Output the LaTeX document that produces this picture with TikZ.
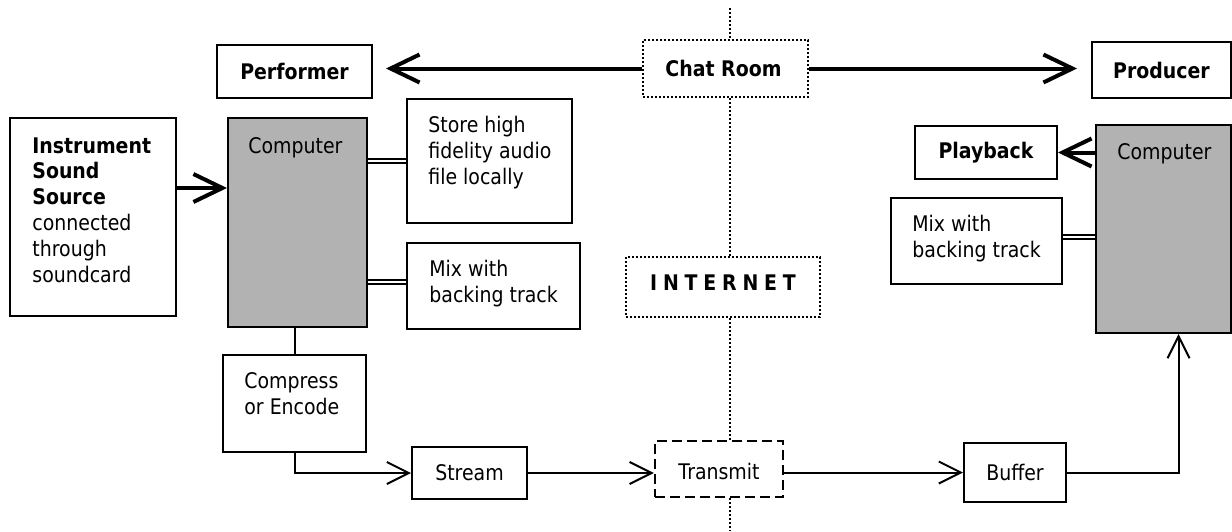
\documentclass[tikz,border=0pt]{standalone}
\usepackage{fontspec}
\setmainfont{DejaVu Sans}[FakeStretch=0.88]
\usetikzlibrary{arrows.meta, fit, positioning}

\tikzset{
  box/.style = {draw=black, line width=1pt, inner sep=0pt},
  compbox/.style = {box, fill=black!30},
  dotbox/.style = {box, dash pattern=on 1pt off 1pt},
  dashbox/.style = {box, line width=1.2pt, dash pattern=on 5pt off 2.5pt},
  txt/.style = {inner sep=0pt, anchor=north west, align=left},
  mid/.style = {inner sep=0pt, anchor=center},
  arrow/.style = {line width=1pt, -{Straight Barb[length=11pt, width=11pt, line width=1pt]}},
  bigarrow/.style = {line width=2pt, -{Straight Barb[length=14.5pt, width=14pt, line width=2pt]}},
  link/.style = {double, line width=0.8pt, double distance=1.2pt},
  net/.style = {line width=1pt, dash pattern=on 1pt off 1pt},
}

\begin{document}
\begin{tikzpicture}[x=0.5pt, y=-0.5pt, font=\fontsize{10.75}{12.95}\selectfont]
  \useasboundingbox (0,0) rectangle (1232,531);

  % Top row
  \node[box, fit={(217,45) (372,98)}] (performer) {};
  \node[mid] (performertxt) at (performer) {\bfseries Performer};
  \node[dotbox, fit={(643,40) (808,97)}] (chat) {};
  \node[mid] (chattxt) at ([xshift=-1pt]chat) {\bfseries Chat Room};
  \node[box, fit={(1092,42) (1231,98)}] (producer) {};
  \node[mid] (producertxt) at (producer) {\bfseries Producer};

  % Performer side
  \node[box, fit={(10,118) (176,316)}] (source) {};
  \node[txt] (sourcetxt) at (32,137) {\textbf{Instrument}\\\textbf{Sound}\\\textbf{Source}\\connected\\through\\soundcard};
  \node[compbox, fit={(228,118) (367,327)}] (pcleft) {};
  \node[txt] (pclefttxt) at (248,137) {Computer};
  \node[box, fit={(407,99) (572,223)}] (store) {};
  \node[txt] (storetxt) at (428,116) {Store high\\fidelity audio\\file locally};
  \node[box, fit={(407,243) (580,329)}] (mixleft) {};
  \node[txt] (mixlefttxt) at (429,260) {Mix with\\backing track};
  \node[box, fit={(223,355) (366,452)}] (encode) {};
  \node[txt] (encodetxt) at (244,372) {Compress\\or Encode};
  \node[box, fit={(412,447) (527,499)}] (stream) {};
  \node[mid] (streamtxt) at (stream) {Stream};

  % Internet
  \node[dotbox, fit={(626,257) (820,317)}] (internet) {};
  \node[mid] (internettxt) at ([yshift=2pt]internet) {\bfseries\addfontfeatures{LetterSpace=27}INTERNET};
  \node[dashbox, fit={(655,441) (783,497)}] (transmit) {};
  \node[mid] (transmittxt) at ([yshift=-1pt]transmit) {Transmit};

  % Producer side
  \node[box, fit={(964,443) (1066,502)}] (buffer) {};
  \node[mid] (buffertxt) at (buffer) {Buffer};
  \node[compbox, fit={(1096,125) (1231,333)}] (pcright) {};
  \node[txt] (pcrighttxt) at (1117,143) {Computer};
  \node[box, fit={(915,126) (1057,179)}] (playback) {};
  \node[mid] (playbacktxt) at (playback) {\bfseries Playback};
  \node[box, fit={(891,198) (1062,284)}] (mixright) {};
  \node[txt] (mixrighttxt) at (912,215) {Mix with\\backing track};

  % Connectors
  \coordinate (perfend) at ([xshift=6.5pt]performer.east);
  \coordinate (prodend) at ([xshift=-7pt]producer.west);
  \draw[bigarrow] (chat.west) -- (chat.west -| perfend);
  \draw[bigarrow] (chat.east) -- (chat.east -| prodend);

  \coordinate (srcout) at ([yshift=14.5pt]source.east);
  \draw[bigarrow] (srcout) -- (srcout -| pcleft.west);
  \draw[link] (store.west -| pcleft.east) -- (store.west);
  \coordinate (mixin) at ([yshift=2pt]mixleft.west);
  \draw[link] (mixin -| pcleft.east) -- (mixin);

  \draw[line width=1pt] (encode.north) -- (encode.north |- pcleft.south);
  \draw[arrow] (encode.south) -- (encode.south |- stream.west) -- (stream.west);
  \draw[arrow] (stream.east) -- (stream.east -| transmit.west);
  \draw[arrow] (buffer.west -| transmit.east) -- (buffer.west);
  \coordinate (rise) at ([xshift=7.5pt]pcright.south);
  \draw[arrow] (buffer.east) -- (buffer.east -| rise) -- (rise);

  \draw[bigarrow] (playback.east -| pcright.west) -- (playback.east);
  \coordinate (mixout) at ([yshift=2pt]mixright.east);
  \draw[link] (mixout) -- (mixout -| pcright.west);

  % dotted backbone
  \coordinate (nettop) at (730,8);
  \coordinate (netbot) at (730,531);
  \draw[net] (nettop) -- (nettop |- chat.north);
  \draw[net] (nettop |- chat.south) -- (nettop |- internet.north);
  \draw[net] (nettop |- internet.south) -- (nettop |- transmit.north);
  \draw[net] (nettop |- transmit.south) -- (netbot);
\end{tikzpicture}
\end{document}
